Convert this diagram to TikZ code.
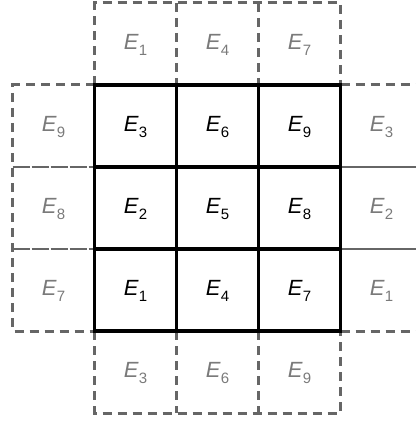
\documentclass[tikz,border=0pt]{standalone}
\usepackage{fontspec}
\setmainfont{Liberation Sans}
\definecolor{dgray}{HTML}{666666}
\definecolor{tgray}{HTML}{7A7A7A}
\newcommand\lab[1]{\textit{E}\raisebox{-0.3em}{\fontsize{15}{15}\selectfont #1}}
\begin{document}
\begin{tikzpicture}[x=1pt,y=-1pt,
  ghost/.style={draw=dgray,line width=3pt,dash pattern=on 9pt off 6pt},
  ghostin/.style={draw=dgray,line width=2.4pt,dash pattern=on 17pt off 2pt},
  ghostsolid/.style={draw=dgray,line width=2.2pt},
  main/.style={draw=black,line width=3.2pt},
  inlab/.style={font=\fontsize{22}{22}\selectfont,text=black},
  outlab/.style={font=\fontsize{22}{22}\selectfont,text=tgray}]
\useasboundingbox (0,0) rectangle (415,422);
% top ghost cells
\draw[ghost] (94.5,85) -- (94.5,3) -- (340.5,3) -- (340.5,85);
\draw[ghost] (176.5,3) -- (176.5,85);
\draw[ghost] (258.5,3) -- (258.5,85);
% bottom ghost cells
\draw[ghost] (94.5,331) -- (94.5,413) -- (340.5,413) -- (340.5,331);
\draw[ghost] (176.5,331) -- (176.5,413);
\draw[ghost] (258.5,331) -- (258.5,413);
% left ghost cells
\draw[ghost] (94.5,85) -- (12.5,85) -- (12.5,331) -- (94.5,331);
\draw[ghostin] (12.5,167) -- (94.5,167);
\draw[ghostin] (12.5,249) -- (94.5,249);
% right ghost cells
\draw[ghost] (340.5,85) -- (420,85);
\draw[ghost] (340.5,331) -- (420,331);
\draw[ghostsolid] (340.5,167) -- (420,167);
\draw[ghostsolid] (340.5,249) -- (420,249);
% main grid
\draw[main] (94.5,85) rectangle (340.5,331);
\draw[main] (176.5,85) -- (176.5,331);
\draw[main] (258.5,85) -- (258.5,331);
\draw[main] (94.5,167) -- (340.5,167);
\draw[main] (94.5,249) -- (340.5,249);
% central labels
\node[inlab] (c11) at (135.5,127) {\lab{3}};
\node[inlab] (c12) at (217.5,127) {\lab{6}};
\node[inlab] (c13) at (299.5,127) {\lab{9}};
\node[inlab] (c21) at (135.5,209) {\lab{2}};
\node[inlab] (c22) at (217.5,209) {\lab{5}};
\node[inlab] (c23) at (299.5,209) {\lab{8}};
\node[inlab] (c31) at (135.5,291) {\lab{1}};
\node[inlab] (c32) at (217.5,291) {\lab{4}};
\node[inlab] (c33) at (299.5,291) {\lab{7}};
% top labels
\node[outlab] (t1) at (135.5,45) {\lab{1}};
\node[outlab] (t2) at (217.5,45) {\lab{4}};
\node[outlab] (t3) at (299.5,45) {\lab{7}};
% bottom labels
\node[outlab] (b1) at (135.5,373) {\lab{3}};
\node[outlab] (b2) at (217.5,373) {\lab{6}};
\node[outlab] (b3) at (299.5,373) {\lab{9}};
% left labels
\node[outlab] (l1) at (53.5,127) {\lab{9}};
\node[outlab] (l2) at (53.5,209) {\lab{8}};
\node[outlab] (l3) at (53.5,291) {\lab{7}};
% right labels
\node[outlab] (r1) at (381.5,127) {\lab{3}};
\node[outlab] (r2) at (381.5,209) {\lab{2}};
\node[outlab] (r3) at (381.5,291) {\lab{1}};
\end{tikzpicture}
\end{document}
